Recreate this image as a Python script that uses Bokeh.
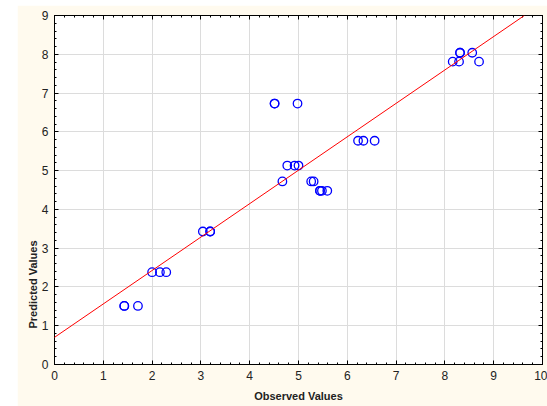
from bokeh.plotting import figure
from bokeh.models import (Range1d, LinearAxis, SingleIntervalTicker, Slope, Title,
                          ColumnDataSource)
from bokeh.embed import file_html
from bokeh.resources import INLINE

# Observed vs predicted values (duplicates drawn as overlapping circles)
observed = [1.43, 1.43, 1.71,
            2.00, 2.16, 2.29,
            3.04, 3.19, 3.19,
            4.51, 4.51, 4.98,
            4.67,
            4.77, 4.92, 5.00,
            5.26, 5.31,
            5.44, 5.44, 5.48, 5.59,
            6.22, 6.33, 6.56,
            8.16, 8.29, 8.70,
            8.31, 8.31, 8.56]
predicted = [1.51, 1.51, 1.51,
             2.38, 2.38, 2.38,
             3.43, 3.43, 3.43,
             6.73, 6.73, 6.73,
             4.72,
             5.13, 5.13, 5.13,
             4.72, 4.72,
             4.48, 4.48, 4.48, 4.48,
             5.77, 5.77, 5.77,
             7.81, 7.81, 7.81,
             8.04, 8.04, 8.04]

# Fitted line
fit_intercept = 0.70
fit_slope = 0.862

FONT = "Liberation Sans"
CREAM = "#fffaee"

p = figure(frame_width=488, frame_height=349,
           x_range=Range1d(0, 10), y_range=Range1d(0, 9),
           output_backend="svg", toolbar_location=None,
           min_border_left=37, min_border_right=5,
           min_border_top=10, min_border_bottom=42,
           background_fill_color="white", border_fill_color=CREAM,
           outline_line_color="black", outline_line_width=1)
p.margin = (5, 0, 0, 17)

p.xaxis.ticker = SingleIntervalTicker(interval=1, num_minor_ticks=5)
p.yaxis.ticker = SingleIntervalTicker(interval=1, num_minor_ticks=5)

for ax in p.axis:
    ax.axis_line_color = "black"
    ax.major_tick_in = 4
    ax.major_tick_out = 0
    ax.minor_tick_in = 2
    ax.minor_tick_out = 0
    ax.major_tick_line_color = "black"
    ax.minor_tick_line_color = "black"
    ax.major_label_text_font = FONT
    ax.major_label_text_font_size = "12px"
    ax.major_label_text_color = "#222222"

p.xaxis.major_label_standoff = 6
p.yaxis.major_label_standoff = 6
p.xaxis.axis_label = "Observed Values"
p.xaxis.axis_label_text_font = FONT
p.xaxis.axis_label_text_font_size = "11px"
p.xaxis.axis_label_text_font_style = "bold"
p.xaxis.axis_label_text_color = "#222222"
p.xaxis.axis_label_standoff = 7

# top and right axes: ticks only, empty labels
for loc in ("above", "right"):
    a = LinearAxis(ticker=SingleIntervalTicker(interval=1, num_minor_ticks=5))
    a.axis_line_color = "black"
    a.major_tick_in = 4
    a.major_tick_out = 0
    a.minor_tick_in = 2
    a.minor_tick_out = 0
    a.major_label_overrides = {i: "" for i in range(0, 11)}
    a.major_label_standoff = 0
    p.add_layout(a, loc)

p.grid.grid_line_color = "#dcdcdc"
p.grid.grid_line_width = 1

src = ColumnDataSource(dict(x=observed, y=predicted))
p.scatter("x", "y", source=src, marker="circle", size=8.5,
          fill_color=None, line_color="#0000ff", line_width=1.3)

p.add_layout(Slope(gradient=fit_slope, y_intercept=fit_intercept,
                   line_color="red", line_width=1))

p.add_layout(Title(text="Predicted Values", align="left", offset=36,
                   text_font=FONT, text_font_size="11px", text_font_style="bold",
                   text_color="#222222", standoff=0), "left")

open("out.html", "w").write(file_html(p, INLINE))
